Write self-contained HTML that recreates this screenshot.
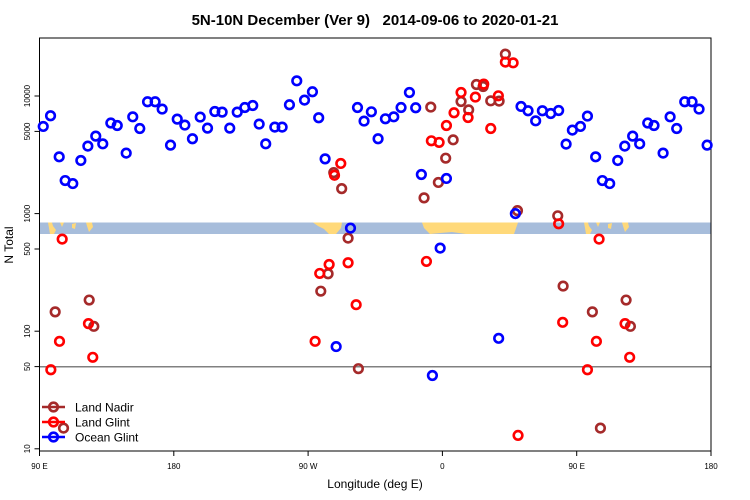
<!DOCTYPE html>
<html><head><meta charset="utf-8">
<style>
html,body{margin:0;padding:0;background:#fff;}
svg{display:block;font-family:"Liberation Sans",sans-serif;}
</style></head>
<body>
<svg id="chart" width="750" height="500" viewBox="0 0 750 500">
<text x="375" y="25" text-anchor="middle" font-size="15" font-weight="bold">5N-10N December (Ver 9)&#160;&#160;&#160;2014-09-06 to 2020-01-21</text>
<g>
<rect x="39" y="222.5" width="672" height="11.5" fill="#a7bddb"/>
<path d="M48,222.5 L52,222.5 L53,226 L56,230 L54,234 L50,234 L49,228Z M60,222.5 L64,222.5 L62,227Z M72,224 L76,223 L75,229 L72,228Z M86,222.5 L92,222.5 L93,227 L89,232 L87,226Z" fill="#ffd97a"/>
<path d="M313,222.5 L342,222.5 L341,228 L336,234 L329,234 L324,229 L318,226Z" fill="#ffd97a"/>
<path d="M422,222.5 L518,222.5 L514,234 L466,234 L452,232 L440,233 L430,234 L424,228Z" fill="#ffd97a"/>
<path d="M584,222.5 L588,222.5 L589,226 L592,230 L590,234 L586,234 L585,228Z M596,222.5 L600,222.5 L598,227Z M608,224 L612,223 L611,229 L608,228Z M622,222.5 L628,222.5 L629,227 L625,232 L623,226Z" fill="#ffd97a"/>
</g>
<line x1="39" y1="366.8" x2="711" y2="366.8" stroke="#808080" stroke-width="1.5"/>
<rect x="39.5" y="38" width="671.5" height="413" fill="none" stroke="#000" stroke-width="1"/>
<g id="axes"></g>
<g id="marks"></g>
<g>
<g><line x1="42" y1="407" x2="65" y2="407" stroke="#a52a2a" stroke-width="2.5"/><circle cx="53.5" cy="407" r="4.3" fill="none" stroke="#a52a2a" stroke-width="2.6"/><text x="75" y="411.5" font-size="12">Land Nadir</text></g>
<g><line x1="42" y1="422" x2="65" y2="422" stroke="#ff0000" stroke-width="2.5"/><circle cx="53.5" cy="422" r="4.3" fill="none" stroke="#ff0000" stroke-width="2.6"/><text x="75" y="426.5" font-size="12">Land Glint</text></g>
<g><line x1="42" y1="437" x2="65" y2="437" stroke="#0000ff" stroke-width="2.5"/><circle cx="53.5" cy="437" r="4.3" fill="none" stroke="#0000ff" stroke-width="2.6"/><text x="75" y="441.5" font-size="12">Ocean Glint</text></g>
</g>
<text x="375" y="488" text-anchor="middle" font-size="12">Longitude (deg E)</text>
<text transform="translate(13,245) rotate(-90)" text-anchor="middle" font-size="12">N Total</text>
</svg>
<script>
// Longitude in unwrapped degrees (90 = 90E, 180, 270 = 90W, 360 = 0, 450 = 90E, 540 = 180)
const xTickValues = [90, 180, 270, 360, 450, 540];
const xTickLabels = ["90 E", "180", "90 W", "0", "90 E", "180"];
const yTickValues = [10, 50, 100, 500, 1000, 5000, 10000];
const yTickLabels = ["10", "50", "100", "500", "1000", "5000", "10000"];

const oceanLon = [92.5,97.4,103.2,107.2,112.3,117.7,122.4,127.7,132.4,137.8,142.1,148.1,152.5,157.2,162.4,167.5,172.2,177.8,182.3,187.4,192.5,197.7,202.6,207.5,212.4,217.5,222.5,227.6,232.9,237.2,241.6,247.7,252.6,257.5,262.4,267.6,272.9,277.1,281.4,288.8,298.4,303.1,307.5,312.4,316.9,321.8,327.4,332.3,337.9,342.1,345.9,353.3,358.5,362.7,397.7,408.9,412.7,417.4,422.5,427,432.6,437.9,442.9,447.1,452.5,457.2,462.7,467.2,472.1,477.5,482.2,487.5,492.2,497.6,501.8,507.9,512.6,517,522.4,527.3,532,537.4];
const oceanN = [5510,6790,3040,1910,1800,2830,3750,4560,3920,5890,5610,3270,6650,5290,8930,8930,7740,3820,6360,5660,4330,6620,5330,7380,7290,5330,7290,7980,8300,5770,3920,5440,5440,8420,13460,9230,10860,6530,2920,74,753,7980,6120,7340,4330,6400,6650,7980,10710,7940,2150,42,509,1990,87,1000,8150,7490,6150,7490,7100,7530,3900,5130,5510,6750,3040,1910,1800,2830,3750,4560,3920,5890,5610,3270,6650,5290,8930,8930,7740,3820];

const glintLon = [291.9,287.7,352.6,357.8,362.7,367.8,372.5,377.2,382.1,387.7,392.4,397.5,402.2,407.4,437.9,105.2,103.4,97.6,122.8,125.7,277.8,284.1,274.7,296.8,302.2,349.3,465,440.6,463.2,457.2,482.4,485.5,410.7];
const glintN = [2670,2120,4160,4030,5610,7200,10710,6560,9790,12620,5290,10040,19420,19150,819,607,82,47,116,60,310,369,82,382,168,392,607,119,82,47,116,60,13];

const nadirLon = [287.2,292.5,352.2,367.2,362.2,357.3,347.7,372.5,377.6,382.8,387.3,392.4,398,402.2,410.3,437.3,100.5,123.3,126.4,106.1,278.5,283.4,296.8,303.7,440.9,460.5,483.1,486,465.9];
const nadirN = [2230,1630,8050,4240,2960,1840,1360,8980,7630,12530,12040,9100,9050,22700,1060,958,146,184,110,15,219,308,619,48,242,146,184,110,15];

const X0 = 39.5, X1 = 711, LON0 = 90, LON1 = 540;
const YDEC = 117.6, Y10 = 448.8;
function xScale(lon){ return X0 + (lon - LON0) * (X1 - X0) / (LON1 - LON0); }
function yScale(n){ return Y10 - (Math.log10(n) - 1) * YDEC; }

const NS = "http://www.w3.org/2000/svg";
const axes = document.getElementById("axes");
const marks = document.getElementById("marks");
function mk(tag, attrs){ const e = document.createElementNS(NS, tag); for (const k in attrs) e.setAttribute(k, attrs[k]); return e; }

xTickValues.forEach((v, i) => {
  const x = xScale(v);
  const t = mk("line", {x1:x, y1:451, x2:x, y2:456, stroke:"#000"});
  
  
  axes.appendChild(t);
  const lb = mk("text", {x:x, y:469, "text-anchor":"middle", "font-size":"8"});
  
  
  lb.textContent = xTickLabels[i];
  axes.appendChild(lb);
});
yTickValues.forEach((v, i) => {
  const y = yScale(v);
  const t = mk("line", {x1:34.5, y1:y, x2:39.5, y2:y, stroke:"#000"});
  
  
  axes.appendChild(t);
  const lb = mk("text", {transform:"translate(30," + y + ") rotate(-90)", "text-anchor":"middle", "font-size":"8"});
  
  
  lb.textContent = yTickLabels[i];
  axes.appendChild(lb);
});

function drawSeries(lons, ns, color, name){
  const g = mk("g", {});
  
  
  lons.forEach((lon, i) => {
    const c = mk("circle", {cx:xScale(lon), cy:yScale(ns[i]), r:4.3, fill:"none", stroke:color, "stroke-width":2.6});
    
    
    g.appendChild(c);
  });
  marks.appendChild(g);
}
drawSeries(nadirLon, nadirN, "#a52a2a", "land-nadir");
drawSeries(glintLon, glintN, "#ff0000", "land-glint");
drawSeries(oceanLon, oceanN, "#0000ff", "ocean-glint");
</script>
</body></html>
